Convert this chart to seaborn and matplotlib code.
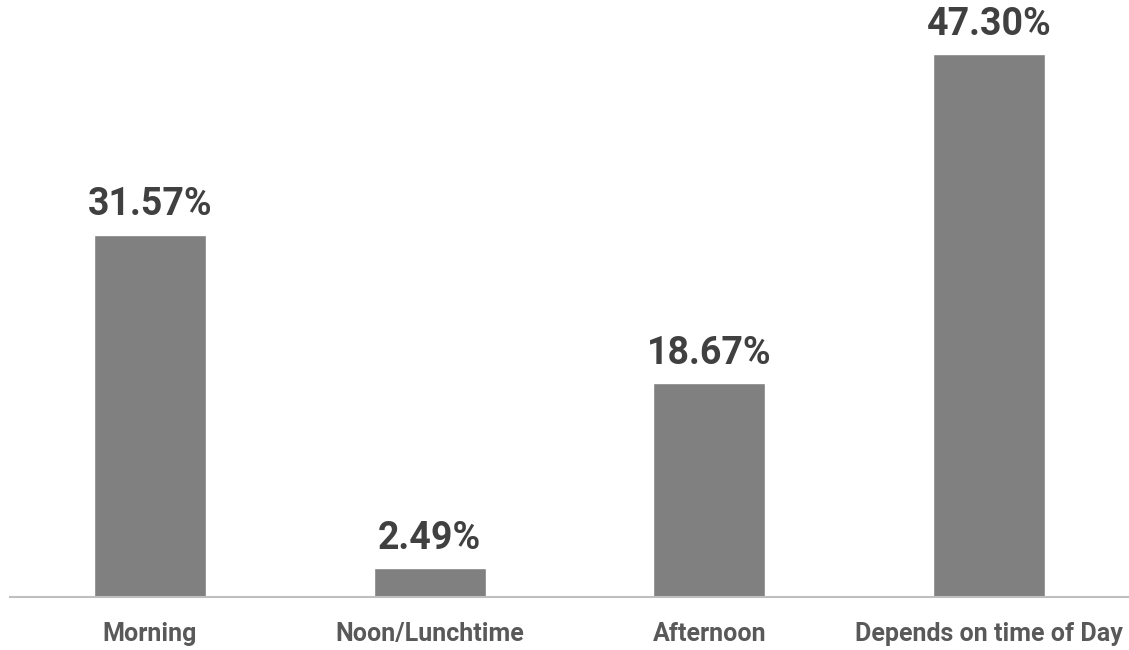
import matplotlib
matplotlib.use("Agg")
import matplotlib.pyplot as plt
import seaborn as sns
import pandas as pd

categories = ["Morning", "Noon/Lunchtime", "Afternoon", "Depends on time of Day"]
values = [31.57, 2.49, 18.67, 47.30]
value_labels = ["31.57%", "2.49%", "18.67%", "47.30%"]

sns.set_theme(style="white")
plt.rcParams["font.family"] = ["Liberation Sans Narrow", "Roboto", "DejaVu Sans"]

df = pd.DataFrame({"cat": categories, "val": values})

fig = plt.figure(figsize=(11.29, 6.5), dpi=100)
ax = fig.add_axes([10 / 1129, (650 - 597) / 650, 1119 / 1129, 597 / 650])
sns.barplot(data=df, x="cat", y="val", color="#808080", saturation=1, width=0.4, ax=ax)

ax.set_xlim(-0.5, 3.5)
ax.set_ylim(0, 52.0)
for i, (v, lab) in enumerate(zip(values, value_labels)):
    ax.annotate(lab, (i, v), xytext=(0, 8), textcoords="offset points",
                ha="center", va="bottom", fontsize=27, fontweight="bold", color="#404040")

ax.set_xlabel("")
ax.set_ylabel("")
ax.set_yticks([])
ax.tick_params(axis="x", length=0, pad=18, labelsize=18, labelcolor="#595959")
for t in ax.get_xticklabels():
    t.set_fontweight("bold")
for s in ["top", "right", "left"]:
    ax.spines[s].set_visible(False)
ax.spines["bottom"].set_color("#bfbfbf")
ax.spines["bottom"].set_linewidth(1.5)

fig.savefig("out.png", dpi=100)
